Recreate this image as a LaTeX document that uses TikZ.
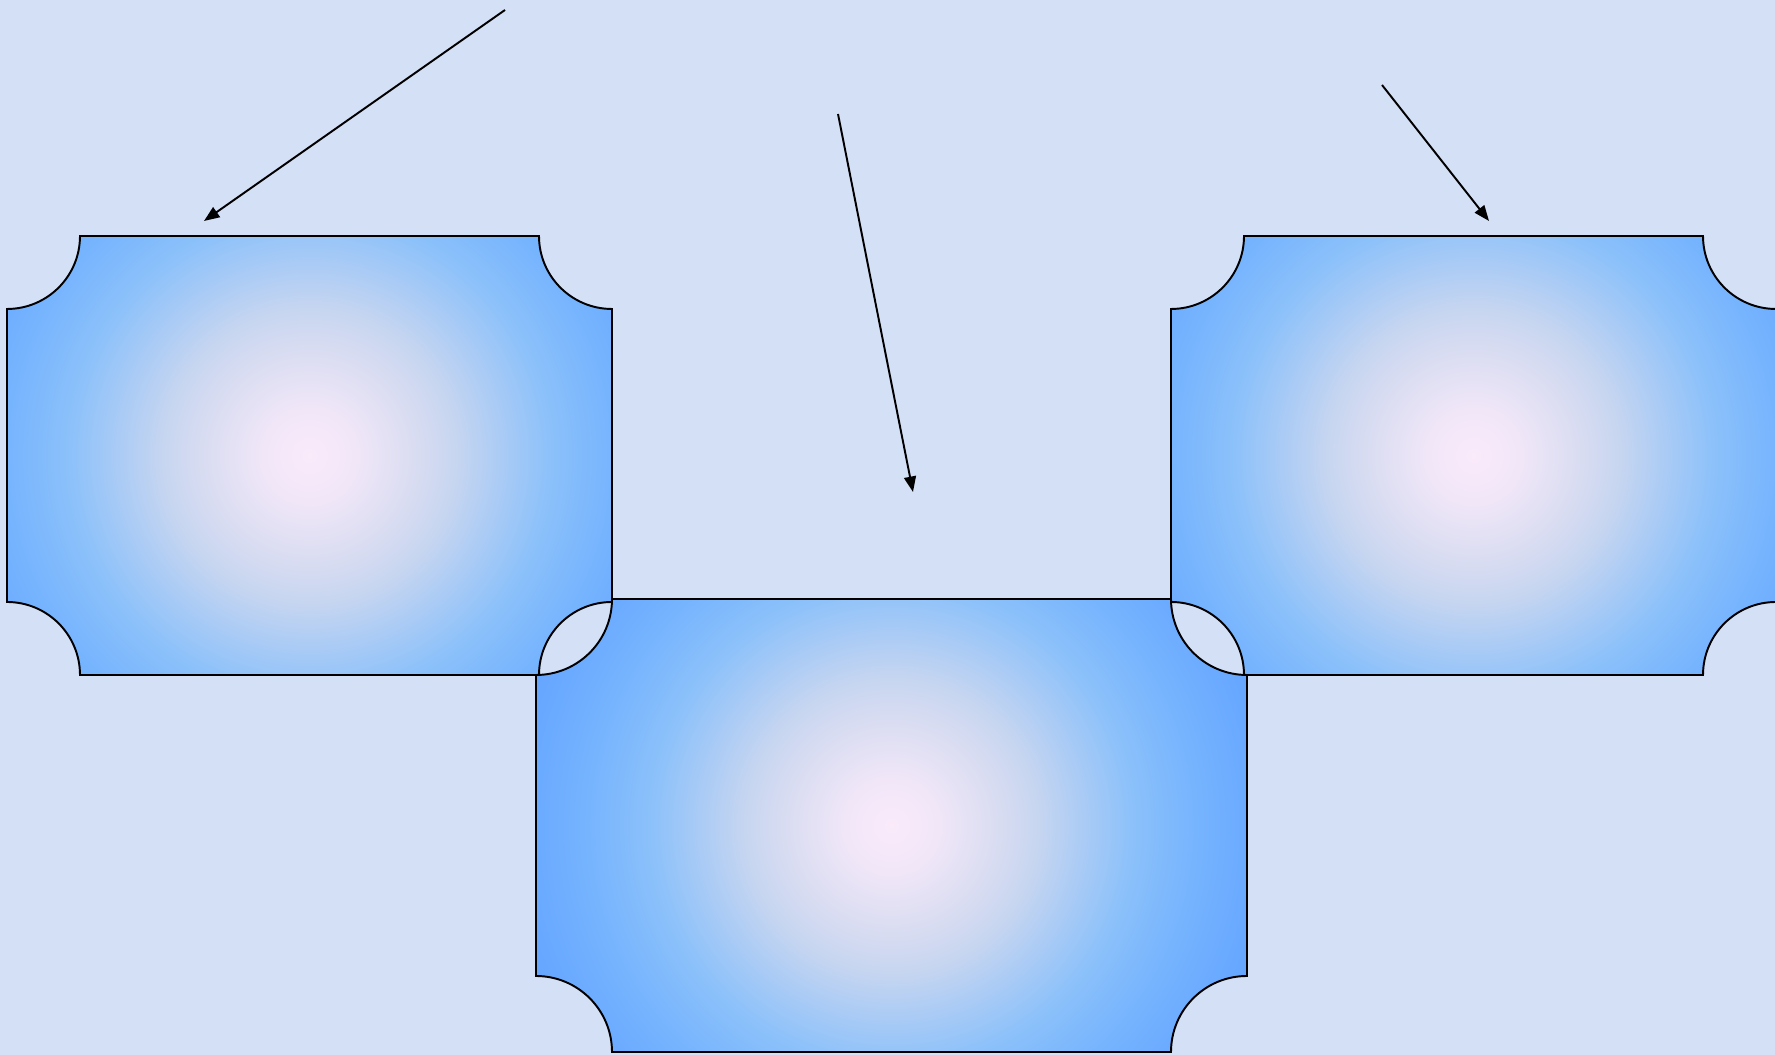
\documentclass[tikz,border=0pt]{standalone}
\usepackage{tikz}
\usetikzlibrary{arrows.meta}
\usepackage{xcolor}
\definecolor{paper}{RGB}{212,224,246}
\definecolor{plaqpink}{RGB}{250,234,250}
\definecolor{plaqmist}{RGB}{240,230,248}
\definecolor{plaqpale}{RGB}{221,222,242}
\definecolor{plaqgrey}{RGB}{200,214,240}
\definecolor{plaqsky}{RGB}{170,203,245}
\definecolor{plaqmid}{RGB}{140,193,250}
\definecolor{plaqblue}{RGB}{118,180,254}
\definecolor{plaqdeep}{RGB}{104,168,255}
\definecolor{plaqedge}{RGB}{100,164,255}
\pgfdeclareradialshading{plaque}{\pgfpoint{0bp}{0bp}}{%
  color(0bp)=(plaqpink); color(3bp)=(plaqmist); color(6bp)=(plaqpale);
  color(9bp)=(plaqgrey); color(12bp)=(plaqsky); color(15bp)=(plaqmid);
  color(19bp)=(plaqblue); color(23bp)=(plaqdeep); color(25bp)=(plaqedge);
  color(50bp)=(plaqedge)}
\tikzset{
  outline/.style={draw=black,line width=.55pt,line join=miter},
  pointer/.style={-{Triangle[length=4.4pt,width=3.4pt]},draw=black,line width=.55pt},
}
\newcommand{\plaquepath}[5]{({#1+#5},#4) -- ({#3-#5},#4)
  arc[start angle=180,end angle=270,radius=#5] -- (#3,{#2+#5})
  arc[start angle=90,end angle=180,radius=#5] -- ({#1+#5},#2)
  arc[start angle=0,end angle=90,radius=#5] -- (#1,{#4-#5})
  arc[start angle=-90,end angle=0,radius=#5] -- cycle}
\newcommand{\drawplaque}[6]{%
  \coordinate (#1) at ({(#2+#4)/2},{(#3+#5)/2});
  \begin{scope}
    \clip \plaquepath{#2}{#3}{#4}{#5}{#6};
    \shade[shading=plaque] (#1) circle[radius=400];
  \end{scope}
  \draw[outline] \plaquepath{#2}{#3}{#4}{#5}{#6};}

\begin{document}
\begin{tikzpicture}[x=0.01cm,y=0.01cm]
  \useasboundingbox (0,0) rectangle (1775,1055);
  \clip (0,0) rectangle (1775,1055);
  \fill[paper] (0,0) rectangle (1775,1055);
  \drawplaque{leftplaque}{7}{380}{612}{819}{73}
  \drawplaque{rightplaque}{1171}{380}{1776}{819}{73}
  \drawplaque{lowplaque}{536}{3}{1247}{456}{76}
  \coordinate (tailA) at (505,1045);
  \coordinate (headA) at (204,834);
  \coordinate (tailB) at (838,941);
  \coordinate (headB) at (913,563);
  \coordinate (tailC) at (1382,970);
  \coordinate (headC) at (1489,834);
  \foreach \p in {A,B,C}{\draw[pointer] (tail\p) -- (head\p);}
\end{tikzpicture}
\end{document}
